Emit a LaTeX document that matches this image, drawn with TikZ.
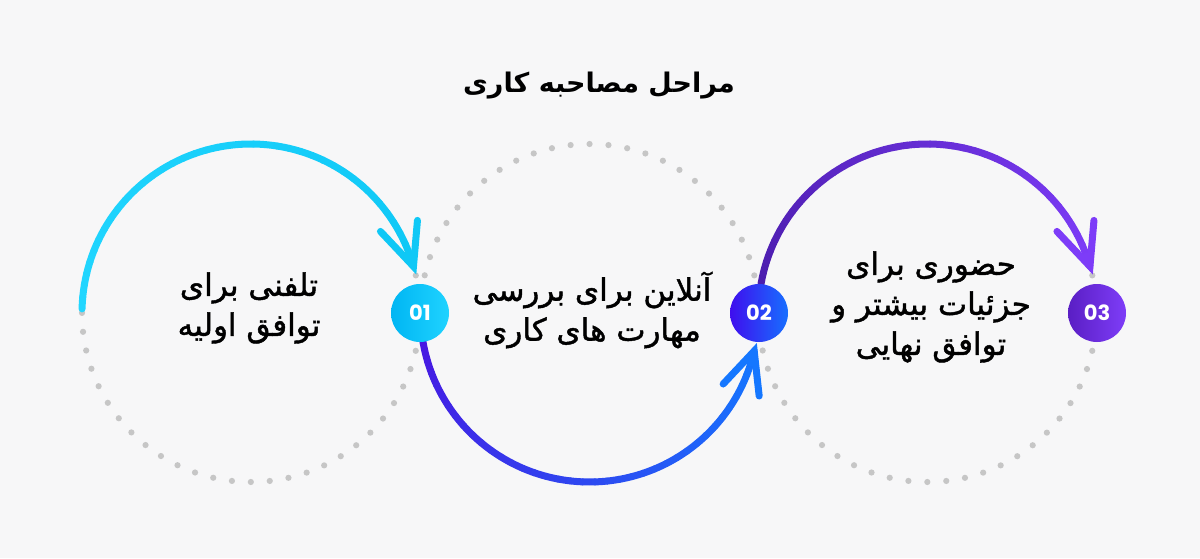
\documentclass[tikz,border=0pt]{standalone}
\usepackage{fontspec}
\TeXXeTstate=1
\newfontfamily\fafont[Script=Arabic,FakeBold=1.4]{DejaVu Sans}
\newfontfamily\fatitle[Script=Arabic]{DejaVu Sans}
\newfontfamily\numfont{Poppins}
\usetikzlibrary{calc}
\definecolor{bg}{HTML}{F7F7F8}
\definecolor{dotc}{HTML}{C6C6C6}
\definecolor{cyanA}{HTML}{22D6FF}
\definecolor{cyanB}{HTML}{0FC8F6}
\definecolor{blueA}{HTML}{4A12E0}
\definecolor{blueB}{HTML}{1577FF}
\definecolor{purA}{HTML}{4C1DAE}
\definecolor{purB}{HTML}{7D3CF8}
\definecolor{d1L}{HTML}{00B6F3}
\definecolor{d1R}{HTML}{1FD3FF}
\definecolor{d2L}{HTML}{3F0EEE}
\definecolor{d2R}{HTML}{176FFF}
\definecolor{d3L}{HTML}{5A1EC4}
\definecolor{d3R}{HTML}{7E3DF8}
\tikzset{
  dotring/.style={draw=dotc, line width=3.1pt, line cap=round, dash pattern=on 0pt off 9.48pt},
  barb/.style={line width=3.5pt, line cap=round},
  seg/.style={line width=3.5pt, line cap=round},
  numdisc/.style={circle, minimum size=29pt, inner sep=0pt, text=white, font=\numfont\bfseries\fontsize{10.5}{13}\selectfont},
  lbl/.style={align=center, font=\fafont\fontsize{15.5}{20}\selectfont, text=black},
  ttl/.style={font=\fatitle\bfseries\fontsize{13.5}{18}\selectfont, text=black},
}
\begin{document}
\begin{tikzpicture}[x=0.5pt,y=0.5pt]
\fill[bg] (0,0) rectangle (1200,558);
\useasboundingbox (0,0) rectangle (1200,558);
% ring centres
\coordinate (c1) at (251,245);
\coordinate (c2) at (589.5,245);
\coordinate (c3) at (927.5,245);
% dotted rings
\draw[dotring] (c1) circle[radius=84.5pt];
\draw[dotring] (c2) circle[radius=84.5pt];
\draw[dotring] (c3) circle[radius=84.5pt];
% arc 1 (cyan), clockwise over the top
\foreach \i in {0,...,39}{
  \pgfmathsetmacro\aa{178.6-\i*(178.6-16)/40}
  \pgfmathsetmacro\bb{178.6-(\i+1)*(178.6-16)/40}
  \pgfmathsetmacro\pp{100-100*\i/39}
  \draw[seg, draw=cyanA!\pp!cyanB] ($(c1)+(\aa:169)$) arc[start angle=\aa, end angle=\bb, radius=84.5pt];
}
\coordinate (t1) at ($(c1)+(16:169)$);
\coordinate (t1a) at ($(t1)+(-33,35)$);
\coordinate (t1b) at ($(t1)+(4,46)$);
\draw[barb, draw=cyanB] (t1a) -- (t1) -- (t1b);
% arc 2 (violet to blue), under the bottom
\foreach \i in {0,...,39}{
  \pgfmathsetmacro\aa{180+\i*(347-180)/40}
  \pgfmathsetmacro\bb{180+(\i+1)*(347-180)/40}
  \pgfmathsetmacro\pp{100-100*\i/39}
  \draw[seg, draw=blueA!\pp!blueB] ($(c2)+(\aa:169)$) arc[start angle=\aa, end angle=\bb, radius=84.5pt];
}
\coordinate (t2) at ($(c2)+(347:169)$);
\coordinate (t2a) at ($(t2)+(-31,-33)$);
\coordinate (t2b) at ($(t2)+(5,-45)$);
\draw[barb, draw=blueB] (t2a) -- (t2) -- (t2b);
% arc 3 (purple), over the top
\foreach \i in {0,...,39}{
  \pgfmathsetmacro\aa{170-\i*(170-16)/40}
  \pgfmathsetmacro\bb{170-(\i+1)*(170-16)/40}
  \pgfmathsetmacro\pp{100-100*\i/39}
  \draw[seg, draw=purA!\pp!purB] ($(c3)+(\aa:169)$) arc[start angle=\aa, end angle=\bb, radius=84.5pt];
}
\coordinate (t3) at ($(c3)+(16:169)$);
\coordinate (t3a) at ($(t3)+(-33,35)$);
\coordinate (t3b) at ($(t3)+(4,46)$);
\draw[barb, draw=purB] (t3a) -- (t3) -- (t3b);
% number discs
\node[numdisc, left color=d1L, right color=d1R] (n1) at (420,245) {01};
\node[numdisc, left color=d2L, right color=d2R] (n2) at (759,245) {02};
\node[numdisc, left color=d3L, right color=d3R] (n3) at (1097,245) {03};
% title
\node[ttl] (title) at (599,472) {\beginR مراحل مصاحبه کاری\endR};
% labels
\node[lbl] (l1) at (249,250) {\beginR تلفنی برای\endR\\\beginR توافق اولیه\endR};
\node[lbl] (l2) at (592,248) {\beginR آنلاین برای بررسی\endR\\\beginR مهارت های کاری\endR};
\node[lbl] (l3) at (931,251) {\beginR حضوری برای\endR\\\beginR جزئیات بیشتر و\endR\\\beginR توافق نهایی\endR};
\end{tikzpicture}
\end{document}
